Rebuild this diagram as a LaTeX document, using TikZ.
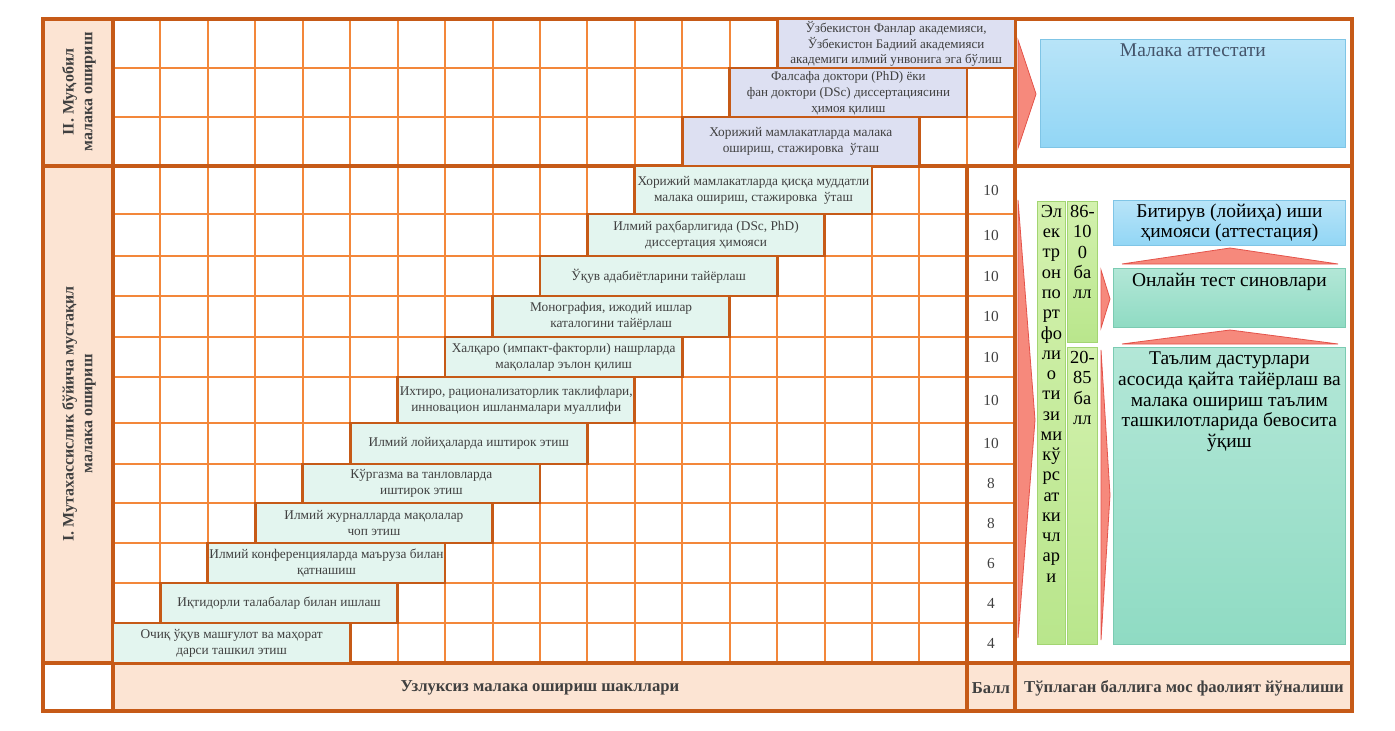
\documentclass[tikz,border=0pt]{standalone}
\usepackage{fontspec}
\setmainfont{Liberation Serif}

\definecolor{gridorange}{HTML}{F3873A}
\definecolor{rimorange}{HTML}{C65A17}
\definecolor{peach}{HTML}{FCE4D3}
\definecolor{formmint}{HTML}{E3F5EF}
\definecolor{formlilac}{HTML}{DDE0F2}
\definecolor{inkgray}{HTML}{404040}
\definecolor{slateink}{HTML}{44546A}
\definecolor{wedgefill}{HTML}{F6897C}
\definecolor{wedgeline}{HTML}{E4534A}
\definecolor{skytop}{HTML}{B8E4F8}
\definecolor{skybot}{HTML}{92D6F5}
\definecolor{skyline}{HTML}{7FC5E6}
\definecolor{seatop}{HTML}{B3E7D7}
\definecolor{seabot}{HTML}{8FDBC3}
\definecolor{sealine}{HTML}{7BCBB2}
\definecolor{limetop}{HTML}{D3F1AE}
\definecolor{limebot}{HTML}{B9E68C}
\definecolor{limeline}{HTML}{A3D572}

\begin{document}
\begin{tikzpicture}[x=0.75pt, y=-0.75pt,
    cellrule/.style={gridorange, line width=1.5pt},
    rimrule/.style={rimorange, line width=2.3pt},
    formbar/.style={draw=rimorange, line width=2.1pt, fill=formmint},
    topbar/.style={formbar, fill=formlilac},
    formtext/.style={inkgray, align=center, font=\fontsize{10}{12}\selectfont},
    toptext/.style={inkgray, align=center, font=\fontsize{9.8}{11.8}\selectfont},
    pointtext/.style={inkgray, font=\fontsize{11.5}{13}\selectfont},
    headtext/.style={inkgray, font=\bfseries\fontsize{12.5}{14}\selectfont},
    sidetext/.style={inkgray, align=center, rotate=90, font=\bfseries\fontsize{12}{14}\selectfont},
    wedge/.style={fill=wedgefill, draw=wedgeline, line width=0.6pt},
    skybox/.style={draw=skyline, top color=skytop, bottom color=skybot, line width=0.6pt, anchor=north west},
    seabox/.style={draw=sealine, top color=seatop, bottom color=seabot, line width=0.6pt, anchor=north west},
    limebox/.style={draw=limeline, top color=limetop, bottom color=limebot, line width=0.6pt, anchor=north west},
    outcome/.style={align=center, font=\fontsize{14.6}{15.6}\selectfont},
    syllable/.style={align=center, font=\fontsize{13.8}{15.2}\selectfont, inner sep=3pt}
  ]
  \useasboundingbox (0,0) rectangle (1395,731);

  % backgrounds of the label cells
  \fill[peach] (43,19) rectangle (113,663);
  \fill[peach] (113,663) rectangle (1352,711);

  % grid
  \foreach \k in {0,...,19}
    \draw[cellrule] ({113+\k*47.44},19) -- ({113+\k*47.44},663);
  \foreach \y in {68,117,214,256,296,337,377,423,464,503,543,583,623}
    \draw[cellrule] (113,\y) -- (1015,\y);

  % frame
  \draw[rimrule] (43,19) rectangle (1352,711);
  \draw[rimrule] (113,19) -- (113,711);
  \draw[rimrule] (967,166) -- (967,711);
  \draw[rimrule] (1015,19) -- (1015,711);
  \draw[rimrule] (43,166) -- (1352,166);
  \draw[rimrule] (43,663) -- (1352,663);

  % I. forms with points
  \foreach \k/\yt/\yb/\pts/\txt in {
      0/623/663/4/{Очиқ ўқув машғулот ва маҳорат\\дарси ташкил этиш},
      1/583/623/4/{Иқтидорли талабалар билан ишлаш},
      2/543/583/6/{Илмий конференцияларда маъруза билан\\қатнашиш},
      3/503/543/8/{Илмий журналларда мақолалар\\чоп этиш},
      4/464/503/8/{Кўргазма ва танловларда\\иштирок этиш},
      5/423/464/10/{Илмий лойиҳаларда иштирок этиш},
      6/377/423/10/{Ихтиро, рационализаторлик таклифлари,\\инновацион ишланмалари муаллифи},
      7/337/377/10/{Халқаро (импакт-факторли) нашрларда\\мақолалар эълон қилиш},
      8/296/337/10/{Монография, ижодий ишлар\\каталогини тайёрлаш},
      9/256/296/10/{Ўқув адабиётларини тайёрлаш},
      10/214/256/10/{Илмий раҳбарлигида (DSc, PhD)\\диссертация ҳимояси},
      11/166/214/10/{Хорижий мамлакатларда қисқа муддатли\\малака ошириш, стажировка\ \ ўташ}}{
    \path[formbar] ({113+\k*47.44},\yt) rectangle ({113+(\k+5)*47.44},\yb);
    \node[formtext] (form\k) at ({113+(\k+2.5)*47.44},{(\yt+\yb)/2}) {\txt};
    \node[pointtext] (point\k) at (991,{(\yt+\yb)/2}) {\pts};
  }

  % II. forms
  \path[topbar] (682.3,117) rectangle (919.5,166);
  \node[formtext] (form12) at (800.9,141.5) {Хорижий мамлакатларда малака\\ошириш, стажировка\ \ ўташ};
  \path[topbar] (729.8,68) rectangle (967,117);
  \node[toptext] (form13) at (848.4,93) {Фалсафа доктори (PhD) ёки\\фан доктори (DSc) диссертациясини\\ҳимоя қилиш};
  \path[topbar] (777.2,19) rectangle (1015,68);
  \node[toptext] (form14) at (896.1,44) {Ўзбекистон Фанлар академияси,\\Ўзбекистон Бадиий академияси\\академиги илмий унвонига эга бўлиш};

  % side and bottom headings
  \node[sidetext] (modetwo) at (79,92) {II. Муқобил\\малака ошириш};
  \node[sidetext] (modeone) at (79,414) {I. Мутахассислик бўйича мустақил\\малака ошириш};
  \node[headtext] (formshead) at (540,688) {Узлуксиз малака ошириш шакллари};
  \node[headtext] (pointshead) at (991,688) {Балл};
  \node[headtext] (fieldhead) at (1184,688) {Тўплаган баллига мос фаолият йўналиши};

  % right part, section II
  \draw[wedge] (1018,40) -- (1036,94) -- (1018,148) -- cycle;
  \node[skybox, minimum width=228.75pt, minimum height=81pt] (cert) at (1040,39) {};
  \node[outcome, slateink, anchor=north] (certtext) at (cert.north) {Малака аттестати};

  % right part, section I
  \draw[wedge] (1018,200) -- (1035,420) -- (1018,638) -- cycle;
  \node[limebox, minimum width=21pt, minimum height=332.25pt] (portfolio) at (1037,201) {};
  \node[syllable, anchor=north] (portfoliotext) at (portfolio.north) {Эл\\ек\\тр\\он\\по\\рт\\фо\\ли\\о\\ти\\зи\\ми\\кў\\рс\\ат\\ки\\чл\\ар\\и};
  \node[limebox, minimum width=22.5pt, minimum height=105.75pt] (highscore) at (1067,201) {};
  \node[syllable, anchor=north] (highscoretext) at (highscore.north) {86-\\10\\0\\ба\\лл};
  \node[limebox, minimum width=22.5pt, minimum height=222.75pt] (lowscore) at (1067,347) {};
  \node[syllable, anchor=north] (lowscoretext) at (lowscore.north) {20-\\85\\ба\\лл};

  \draw[wedge] (1101,270) -- (1110,299) -- (1101,328) -- cycle;
  \draw[wedge] (1101,350) -- (1110,495) -- (1101,640) -- cycle;

  \node[skybox, minimum width=174pt, minimum height=33.75pt] (defense) at (1113,200) {};
  \node[outcome] (defensetext) at (defense.center) {Битирув (лойиҳа) иши\\ҳимояси (аттестация)};
  \draw[wedge] (1122,264) -- (1230,248) -- (1338,264) -- cycle;
  \node[seabox, minimum width=174pt, minimum height=44.25pt] (online) at (1113,268) {};
  \node[outcome, anchor=north] (onlinetext) at (online.north) {Онлайн тест синовлари};
  \draw[wedge] (1122,344) -- (1230,330) -- (1338,344) -- cycle;
  \node[seabox, minimum width=174pt, minimum height=222.75pt] (study) at (1113,347) {};
  \node[outcome, anchor=north] (studytext) at (study.north) {Таълим дастурлари\\асосида қайта тайёрлаш ва\\малака ошириш таълим\\ташкилотларида бевосита\\ўқиш};
\end{tikzpicture}
\end{document}
